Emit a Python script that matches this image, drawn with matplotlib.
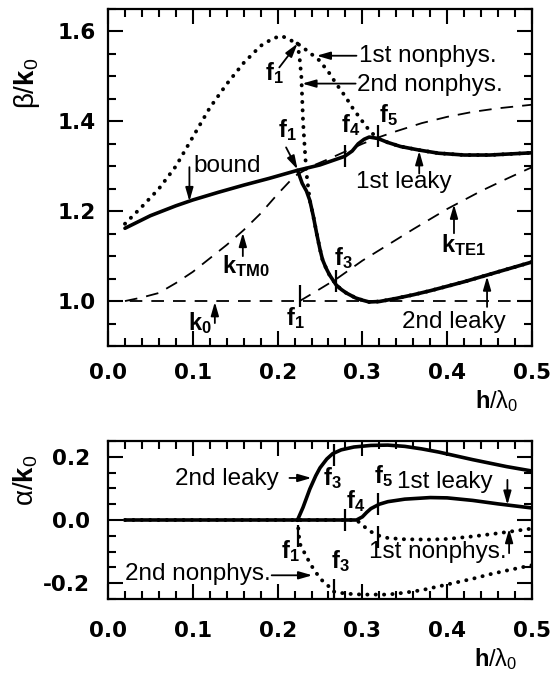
"""
Dispersion of bound, leaky and nonphysical modes: beta/k0 and alpha/k0 vs h/lambda0.
"""

import matplotlib

matplotlib.use("Agg")
import matplotlib.pyplot as plt
from matplotlib.ticker import MultipleLocator, FormatStrFormatter

plt.rcParams["font.family"] = "Liberation Sans"
plt.rcParams["mathtext.fontset"] = "custom"
plt.rcParams["mathtext.rm"] = "Liberation Sans"
plt.rcParams["mathtext.it"] = "Liberation Sans"
plt.rcParams["mathtext.bf"] = "Liberation Sans:bold"
plt.rcParams["axes.unicode_minus"] = False

# ---- data ----
# phase constant beta/k0
h_bound = [0.02, 0.05, 0.08, 0.10, 0.13, 0.16, 0.19, 0.2235, 0.25, 0.279, 0.288, 0.295, 0.302,
           0.308, 0.318, 0.33, 0.345, 0.367, 0.39, 0.42, 0.45, 0.48, 0.50]
beta_bound = [1.162, 1.19, 1.212, 1.225, 1.242, 1.258, 1.273, 1.291, 1.303, 1.322, 1.334, 1.35, 1.36,
              1.365, 1.362, 1.353, 1.344, 1.336, 1.329, 1.325, 1.325, 1.328, 1.330]

h_nonphys1 = [0.02, 0.04, 0.06, 0.08, 0.10, 0.12, 0.14, 0.16, 0.18, 0.195, 0.205, 0.2235, 0.235,
              0.249, 0.26, 0.269, 0.28, 0.288, 0.298, 0.308, 0.318, 0.33, 0.345, 0.367, 0.39, 0.42,
              0.45, 0.48, 0.50]
beta_nonphys1 = [1.172, 1.21, 1.25, 1.30, 1.365, 1.43, 1.483, 1.53, 1.568, 1.585, 1.59, 1.573, 1.557,
                 1.536, 1.51, 1.484, 1.455, 1.431, 1.405, 1.38, 1.362, 1.353, 1.344, 1.336, 1.329,
                 1.325, 1.325, 1.328, 1.330]

h_leaky2 = [0.2235, 0.229, 0.234, 0.238, 0.242, 0.246, 0.25, 0.253, 0.257, 0.261, 0.269, 0.275,
            0.281, 0.292, 0.30, 0.308, 0.32, 0.34, 0.36, 0.38, 0.40, 0.42, 0.44, 0.46, 0.48, 0.50]
beta_leaky2 = [1.291, 1.262, 1.245, 1.224, 1.19, 1.151, 1.115, 1.092, 1.074, 1.059, 1.036, 1.026,
               1.018, 1.007, 1.002, 0.998, 0.999, 1.006, 1.014, 1.023, 1.033, 1.043, 1.054, 1.065,
               1.076, 1.087]

h_nonphys2 = [0.2235, 0.226, 0.228, 0.229, 0.230, 0.232, 0.234, 0.238, 0.242, 0.246, 0.25, 0.253,
              0.257, 0.261, 0.269, 0.275, 0.281, 0.292, 0.30, 0.308, 0.32, 0.34, 0.36, 0.38, 0.40,
              0.42, 0.44, 0.46, 0.48, 0.50]
beta_nonphys2 = [1.573, 1.54, 1.50, 1.45, 1.40, 1.34, 1.285, 1.224, 1.19, 1.151, 1.115, 1.092,
                 1.074, 1.059, 1.036, 1.026, 1.018, 1.007, 1.002, 0.998, 0.999, 1.006, 1.014, 1.023,
                 1.033, 1.043, 1.054, 1.065, 1.076, 1.087]

h_tm0 = [0.02, 0.04, 0.06, 0.08, 0.10, 0.12, 0.14, 0.16, 0.18, 0.20, 0.22, 0.24, 0.26, 0.28, 0.30,
         0.32, 0.34, 0.37, 0.40, 0.43, 0.46, 0.50]
beta_tm0 = [1.0, 1.008, 1.018, 1.04, 1.065, 1.095, 1.125, 1.158, 1.195, 1.238, 1.278, 1.30, 1.316,
            1.333, 1.35, 1.365, 1.378, 1.396, 1.41, 1.421, 1.429, 1.437]

h_te1 = [0.226, 0.25, 0.27, 0.30, 0.33, 0.36, 0.40, 0.44, 0.47, 0.50]
beta_te1 = [1.0, 1.027, 1.05, 1.09, 1.125, 1.16, 1.205, 1.245, 1.272, 1.298]

# attenuation constant alpha/k0
h_a_leaky1 = [0.02, 0.10, 0.20, 0.279, 0.293, 0.30, 0.305, 0.31, 0.32, 0.33, 0.35, 0.38, 0.40,
              0.43, 0.46, 0.50]
alpha_leaky1 = [0.0, 0.0, 0.0, 0.0, 0.0, 0.01, 0.024, 0.036, 0.05, 0.058, 0.066, 0.071, 0.07, 0.062,
                0.051, 0.038]

h_a_nonphys1 = [0.02, 0.10, 0.20, 0.279, 0.293, 0.30, 0.305, 0.31, 0.32, 0.33, 0.35, 0.38, 0.40,
                0.43, 0.46, 0.50]
alpha_nonphys1 = [0.0, 0.0, 0.0, 0.0, 0.0, -0.016, -0.027, -0.037, -0.05, -0.057, -0.061, -0.062,
                  -0.06, -0.052, -0.042, -0.027]

h_a_leaky2 = [0.2235, 0.23, 0.238, 0.245, 0.25, 0.258, 0.265, 0.275, 0.29, 0.31, 0.33, 0.35, 0.37,
              0.39, 0.41, 0.43, 0.45, 0.47, 0.50]
alpha_leaky2 = [0.0, 0.04, 0.098, 0.14, 0.165, 0.193, 0.21, 0.222, 0.231, 0.236, 0.237, 0.233,
                0.225, 0.215, 0.203, 0.191, 0.18, 0.169, 0.155]

h_a_nonphys2 = [0.2235, 0.226, 0.23, 0.234, 0.24, 0.246, 0.252, 0.259, 0.265, 0.28, 0.30, 0.33,
                0.35, 0.37, 0.39, 0.41, 0.43, 0.45, 0.47, 0.50]
alpha_nonphys2 = [0.0, -0.074, -0.095, -0.116, -0.145, -0.169, -0.19, -0.206, -0.226, -0.233,
                  -0.236, -0.236, -0.23, -0.222, -0.21, -0.198, -0.186, -0.172, -0.16, -0.143]

# frequency points f1..f5 (h/lambda0) and where their marks sit
f_top_h = [0.226, 0.269, 0.279, 0.318]
f_top_beta = [1.012, 1.045, 1.322, 1.367]
f_bot_h = [0.2235, 0.266, 0.266, 0.279, 0.318, 0.318]
f_bot_alpha = [-0.05, 0.207, -0.22, 0.0, 0.05, -0.055]

# ---- styles ----
SOLID = dict(color="k", lw=2.6, solid_capstyle="round")
DOT = dict(color="k", lw=2.8, linestyle=(0, (0.05, 2.1)), dash_capstyle="round")
DASH = dict(color="k", lw=1.3, dashes=(7, 5))
TXT = 17.5


def arrow(ax, tail, tip):
    ax.annotate("", xy=tip, xytext=tail,
                arrowprops=dict(arrowstyle="-|>,head_length=0.45,head_width=0.13", lw=1.3,
                                color="k", shrinkA=0, shrinkB=0, mutation_scale=18))


def flabel(ax, x, y, n):
    ax.text(x, y, r"$\mathbf{f}_\mathbf{%s}$" % n, fontsize=17, va="baseline")


def style_axes(ax, ymaj, ymin, xpad, ypad):
    ax.set_xlim(0, 0.5)
    ax.xaxis.set_major_locator(MultipleLocator(0.1))
    ax.xaxis.set_minor_locator(MultipleLocator(0.02))
    ax.yaxis.set_major_locator(MultipleLocator(ymaj))
    ax.yaxis.set_minor_locator(MultipleLocator(ymin))
    ax.xaxis.set_major_formatter(FormatStrFormatter("%.1f"))
    ax.yaxis.set_major_formatter(FormatStrFormatter("%.1f"))
    ax.tick_params(which="both", direction="in", top=True, right=True, width=1.5)
    ax.tick_params(which="major", length=10.5, labelsize=15.5)
    ax.tick_params(which="minor", length=5.5)
    ax.tick_params(axis="x", pad=xpad)
    ax.tick_params(axis="y", pad=ypad)
    for lbl in ax.get_xticklabels() + ax.get_yticklabels():
        lbl.set_fontfamily("DejaVu Sans")
        lbl.set_fontweight("bold")
    for sp in ax.spines.values():
        sp.set_linewidth(1.6)


fig = plt.figure(figsize=(5.55, 6.75), dpi=100)
ax1 = fig.add_axes([108 / 555, 1 - 346 / 675, 424 / 555, 337 / 675])
ax2 = fig.add_axes([108 / 555, 1 - 599 / 675, 424 / 555, 158 / 675])

# ---- top panel: beta/k0 ----
ax1.axhline(1.0, **DASH)
ax1.plot(h_tm0, beta_tm0, **DASH)
ax1.plot(h_te1, beta_te1, **DASH)
ax1.plot(h_nonphys1, beta_nonphys1, **DOT)
ax1.plot(h_nonphys2, beta_nonphys2, **DOT)
ax1.plot(h_bound, beta_bound, **SOLID)
ax1.plot(h_leaky2, beta_leaky2, **SOLID)
ax1.plot(f_top_h, f_top_beta, ls="none", marker="|", ms=16, mew=1.6, color="k")
ax1.set_ylim(0.9, 1.65)
style_axes(ax1, 0.2, 0.05, 12, 9)

arrow(ax1, (0.096, 1.298), (0.096, 1.222))
ax1.text(0.101, 1.30, "bound", fontsize=TXT, va="center")
arrow(ax1, (0.159, 1.100), (0.159, 1.152))
ax1.text(0.135, 1.062, r"$\mathbf{k}_\mathbf{TM0}$", fontsize=17, va="baseline")
arrow(ax1, (0.126, 0.951), (0.126, 0.998))
ax1.text(0.094, 0.936, r"$\mathbf{k}_\mathbf{0}$", fontsize=17, va="baseline")
arrow(ax1, (0.202, 1.52), (0.2235, 1.573))
flabel(ax1, 0.185, 1.491, "1")
arrow(ax1, (0.293, 1.546), (0.246, 1.546))
ax1.text(0.296, 1.531, "1st nonphys.", fontsize=TXT, va="baseline")
arrow(ax1, (0.292, 1.484), (0.229, 1.484))
ax1.text(0.294, 1.467, "2nd nonphys.", fontsize=TXT, va="baseline")
arrow(ax1, (0.21, 1.342), (0.2235, 1.293))
flabel(ax1, 0.20, 1.364, "1")
flabel(ax1, 0.275, 1.376, "4")
flabel(ax1, 0.32, 1.398, "5")
arrow(ax1, (0.367, 1.284), (0.367, 1.334))
ax1.text(0.293, 1.251, "1st leaky", fontsize=TXT, va="baseline")
arrow(ax1, (0.408, 1.151), (0.408, 1.215))
ax1.text(0.393, 1.109, r"$\mathbf{k}_\mathbf{TE1}$", fontsize=17, va="baseline")
flabel(ax1, 0.267, 1.08, "3")
flabel(ax1, 0.21, 0.947, "1")
arrow(ax1, (0.447, 0.987), (0.447, 1.055))
ax1.text(0.347, 0.94, "2nd leaky", fontsize=TXT, va="baseline")

ax1.set_ylabel(r"$\beta$/$\mathbf{k}_0$", fontsize=20)
ax1.yaxis.set_label_coords(-0.155, 0.78)
ax1.set_xlabel(r"$\mathbf{h}$/$\lambda_0$", fontsize=17)
ax1.xaxis.set_label_coords(0.917, -0.125)

# ---- bottom panel: alpha/k0 ----
ax2.plot(h_a_nonphys1, alpha_nonphys1, **DOT)
ax2.plot(h_a_nonphys2, alpha_nonphys2, **DOT)
ax2.plot(h_a_leaky1, alpha_leaky1, **SOLID)
ax2.plot(h_a_leaky2, alpha_leaky2, **SOLID)
ax2.plot(f_bot_h, f_bot_alpha, ls="none", marker="|", ms=16, mew=1.6, color="k")
ax2.set_ylim(-0.25, 0.25)
style_axes(ax2, 0.2, 0.05, 16, 13)

ax2.text(0.079, 0.111, "2nd leaky", fontsize=TXT, va="baseline")
arrow(ax2, (0.214, 0.133), (0.24, 0.133))
flabel(ax2, 0.253, 0.111, "3")
flabel(ax2, 0.314, 0.117, "5")
flabel(ax2, 0.281, 0.038, "4")
ax2.text(0.341, 0.10, "1st leaky", fontsize=TXT, va="baseline")
arrow(ax2, (0.471, 0.127), (0.471, 0.048))
ax2.text(0.308, -0.121, "1st nonphys.", fontsize=TXT, va="baseline")
arrow(ax2, (0.473, -0.105), (0.473, -0.028))
flabel(ax2, 0.204, -0.121, "1")
ax2.text(0.02, -0.19, "2nd nonphys.", fontsize=TXT, va="baseline")
arrow(ax2, (0.193, -0.175), (0.241, -0.175))
flabel(ax2, 0.263, -0.152, "3")

ax2.set_ylabel(r"$\alpha$/$\mathbf{k}_0$", fontsize=20)
ax2.yaxis.set_label_coords(-0.16, 0.75)
ax2.set_xlabel(r"$\mathbf{h}$/$\lambda_0$", fontsize=17)
ax2.xaxis.set_label_coords(0.915, -0.30)

fig.savefig("out.png", dpi=100)
